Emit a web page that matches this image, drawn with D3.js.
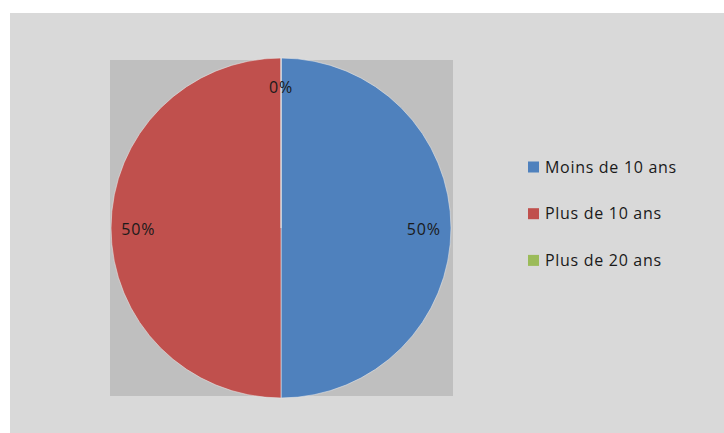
<!DOCTYPE html>
<html>
<head>
<meta charset="utf-8">
<script src="https://cdn.jsdelivr.net/npm/d3@7"></script>
<style>
html,body{margin:0;padding:0;background:#fff;}
svg{display:block;}
text{font-family:"Open Sans",Lato,sans-serif;}
</style>
</head>
<body>
<svg id="chart" width="724" height="433"></svg>
<script>
const categories = ["Moins de 10 ans", "Plus de 10 ans", "Plus de 20 ans"];
const values = [50, 50, 0];
const colors = ["#4f81bd", "#c0504d", "#9bbb59"];

const svg = d3.select("#chart");
svg.append("rect").attr("x", 10).attr("y", 13).attr("width", 714).attr("height", 420).attr("fill", "#d9d9d9");
svg.append("rect").attr("x", 110).attr("y", 60).attr("width", 343).attr("height", 336).attr("fill", "#bfbfbf");

const cx = 281, cy = 228, r = 170;
const total = d3.sum(values);
const pie = d3.pie().sort(null).value(d => d)(values);
const arc = d3.arc().innerRadius(0).outerRadius(r);
const labelArc = d3.arc().innerRadius(r * 0.84).outerRadius(r * 0.84);

const g = svg.append("g").attr("transform", `translate(${cx},${cy})`);
g.selectAll("path").data(pie).join("path")
  .attr("d", arc)
  .attr("fill", (d, i) => colors[i])
  .attr("stroke", "#e6e6e6")
  .attr("stroke-width", 0.6);

g.selectAll("text").data(pie).join("text")
  .attr("transform", d => { const c = labelArc.centroid(d); return `translate(${c[0]},${c[1] + (d.value === 0 ? 2 : 1)})`; })
  .attr("text-anchor", "middle")
  .attr("dy", "0.35em")
  .attr("font-size", 16)
  .attr("letter-spacing", 0.8)
  .attr("fill", "#1a1a1a")
  .text(d => Math.round(d.value / total * 100) + "%");

const legend = svg.append("g");
const items = legend.selectAll("g").data(categories).join("g")
  .attr("transform", (d, i) => `translate(528,${161.5 + i * 46.7})`);
items.append("rect").attr("width", 11).attr("height", 11).attr("fill", (d, i) => colors[i]);
items.append("text").attr("x", 17).attr("y", 5.5).attr("dy", "0.36em")
  .attr("font-size", 16).attr("letter-spacing", 0.7).attr("fill", "#1a1a1a").text(d => d);
</script>
</body>
</html>
